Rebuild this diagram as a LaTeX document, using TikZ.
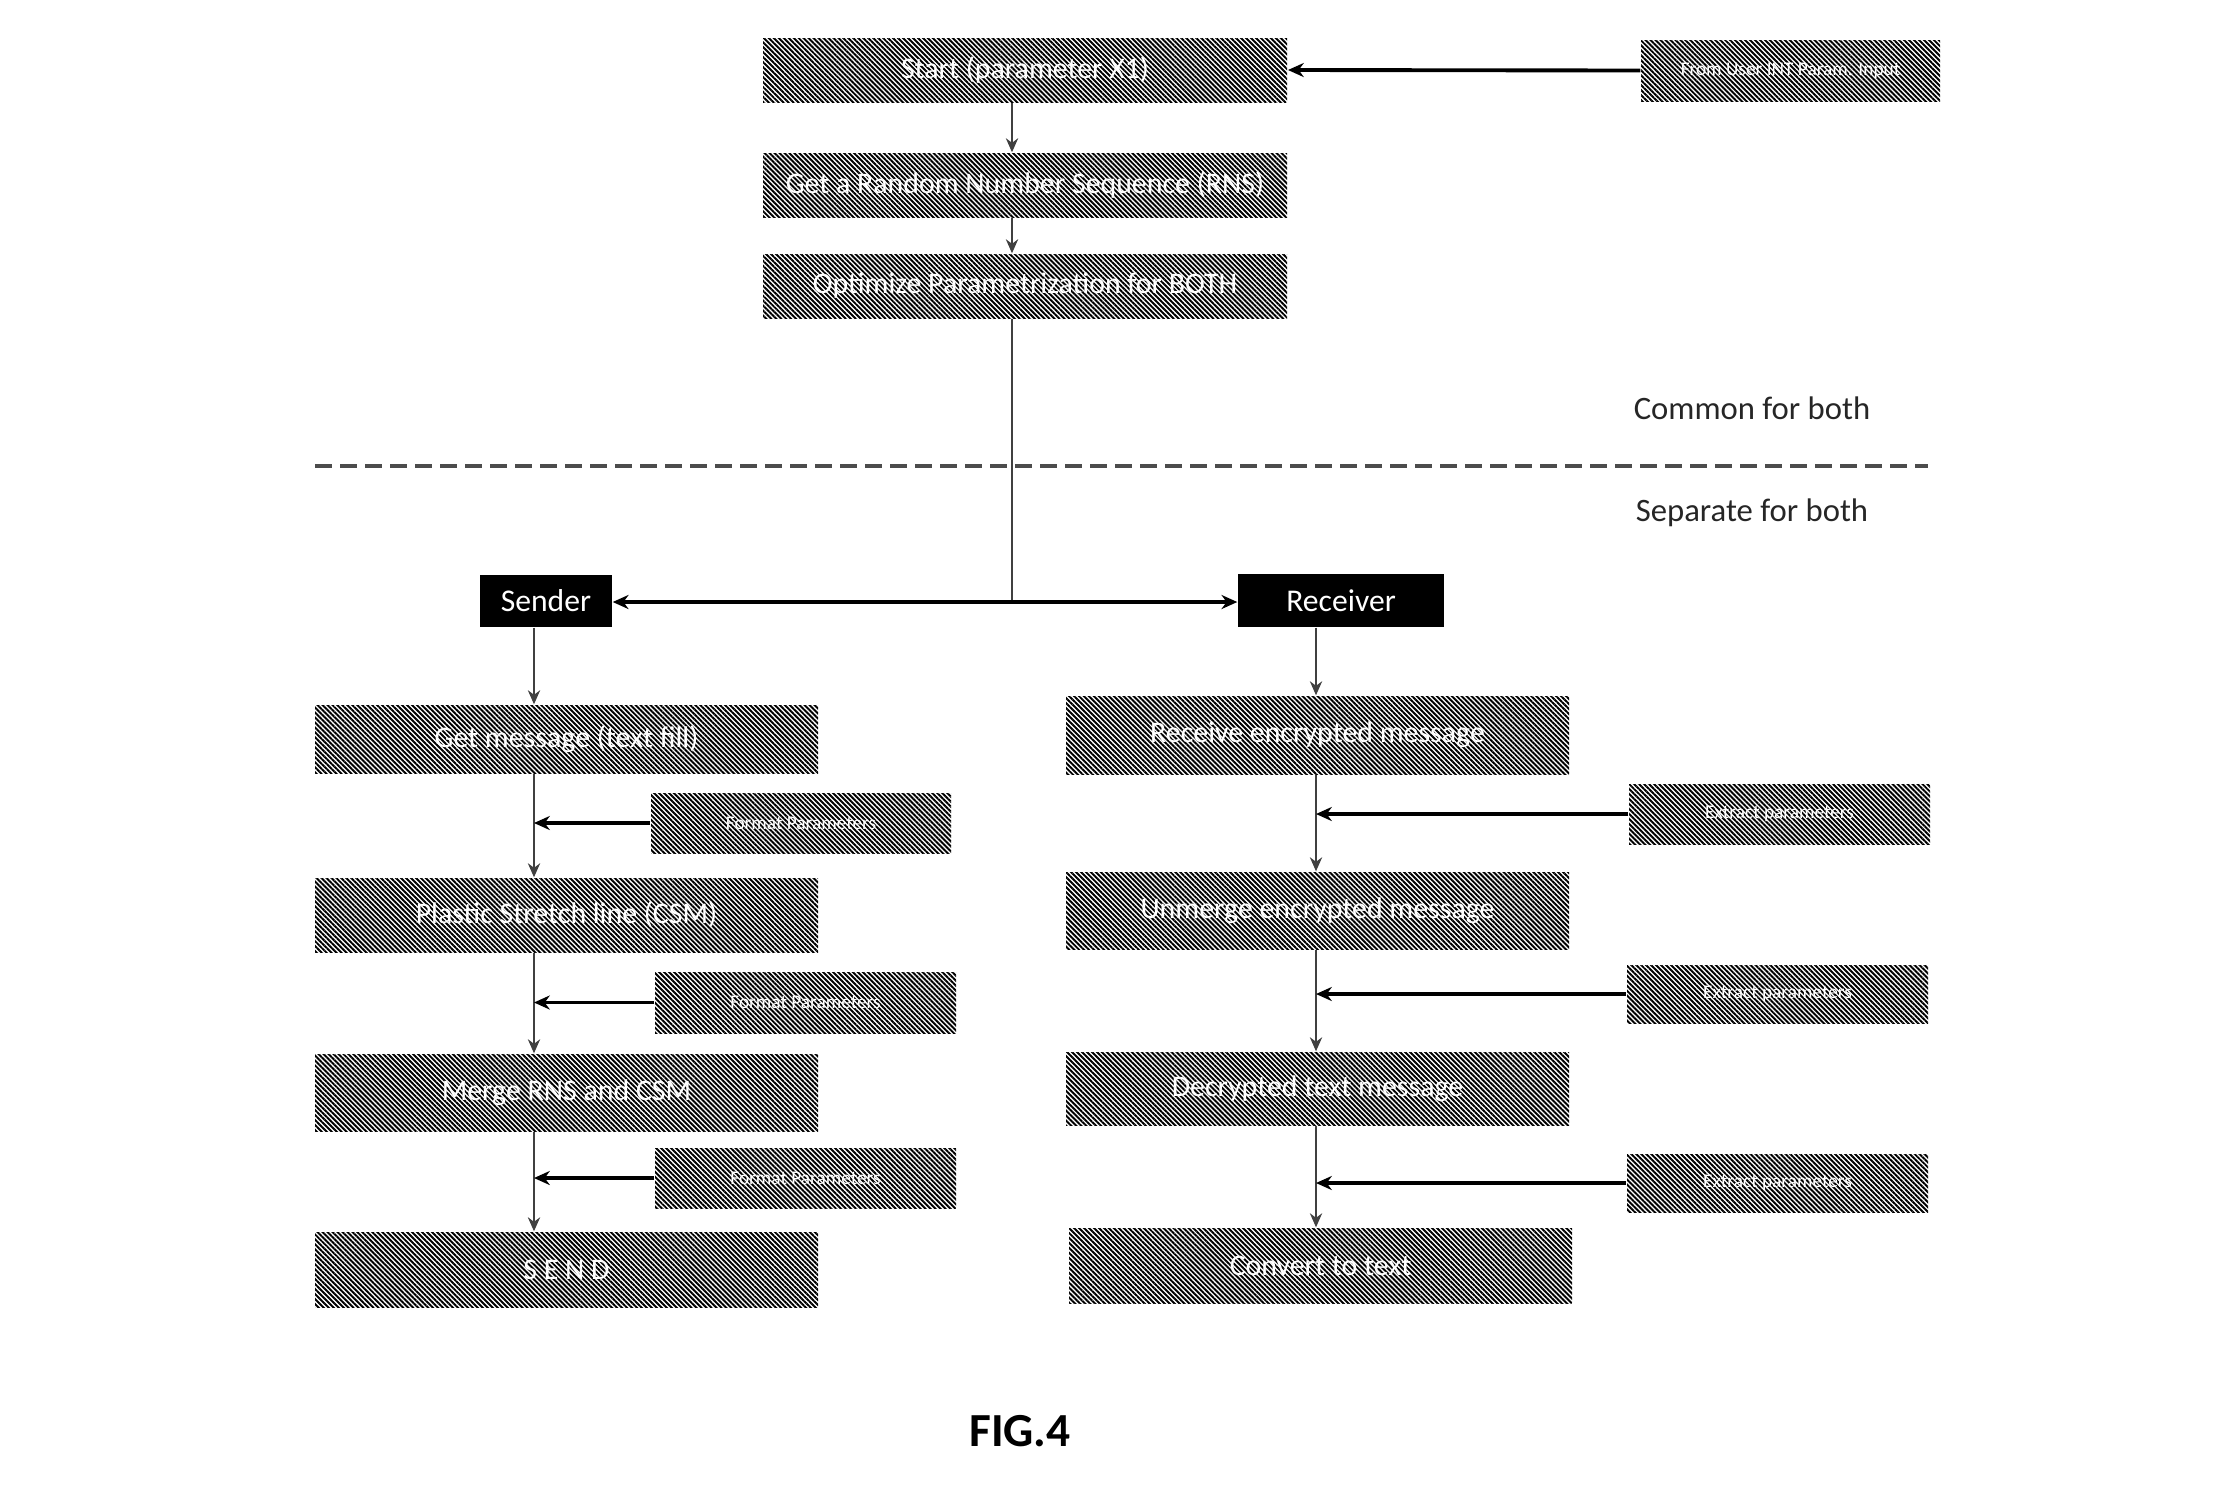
\documentclass[tikz,border=0pt]{standalone}
\usepackage{fontspec}
\setmainfont{Carlito}
\usetikzlibrary{arrows.meta,patterns.meta}
\tikzset{
  hatch/.style={pattern={Lines[angle=-45,distance=1.0pt,line width=0.55pt]}},
  bigbox/.style={hatch,draw=none,minimum width=5.03cm,inner sep=0pt,text=white,font=\fontsize{8.5}{10}\selectfont},
  topbox/.style={bigbox,minimum width=5.24cm,minimum height=0.64cm},
  smallbox/.style={hatch,draw=none,minimum width=3.0cm,minimum height=0.6cm,inner sep=0pt,text=white,font=\fontsize{5.5}{7}\selectfont},
  rolebox/.style={fill=black,draw=none,inner sep=0pt,text=white,font=\fontsize{9}{11}\selectfont},
  flow/.style={line width=0.5pt,draw=black!75,-{Stealth[length=4pt,width=3.5pt]}},
  plain/.style={line width=0.5pt,draw=black!75},
  side/.style={line width=1.1pt,draw=black,-{Stealth[length=4.5pt,width=4pt]}},
  note/.style={text=black!85,font=\fontsize{9.3}{11}\selectfont}
}
\begin{document}
\begin{tikzpicture}
\useasboundingbox (0,0) rectangle (22.28,-14.86);
% common part
\node[topbox] (start) at (10.25,-0.70) {Start (parameter X1)};
\node[smallbox,minimum width=2.99cm,minimum height=0.61cm] (user) at (17.905,-0.705) {From User INT Param. Input};
\node[topbox] (rns) at (10.25,-1.85) {Get a Random Number Sequence (RNS)};
\node[topbox] (opt) at (10.25,-2.86) {Optimize Parametrization for BOTH};
\coordinate (colC) at (10.12,-6.02);
\draw[side] (user.west) -- (start.east);
\draw[flow] (start.south -| colC) -- (rns.north -| colC);
\draw[flow] (rns.south -| colC) -- (opt.north -| colC);
\draw[plain] (opt.south -| colC) -- (colC);
% separator
\coordinate (dashL) at (3.15,-4.66);
\coordinate (dashR) at (19.28,-4.66);
\draw[black!70,line width=1.3pt,dash pattern=on 0.17cm off 0.08cm] (dashL) -- (dashR);
\node[note] (common) at (17.52,-4.08) {Common for both};
\node[note] (separate) at (17.52,-5.13) {Separate for both};
% roles
\node[rolebox,minimum width=1.32cm,minimum height=0.52cm] (sender) at (5.46,-6.01) {Sender};
\node[rolebox,minimum width=2.06cm,minimum height=0.53cm] (receiver) at (13.41,-6.005) {Receiver};
\draw[side,line width=0.9pt] (colC) -- (sender.east |- colC);
\draw[side,line width=0.9pt] (colC) -- (receiver.west |- colC);
% sender column
\coordinate (colL) at (5.34,-6.0);
\node[bigbox,minimum height=0.68cm] (l1) at (5.665,-7.39) {Get message (text fill)};
\node[bigbox,minimum height=0.74cm] (l2) at (5.665,-9.15) {Plastic Stretch line (CSM)};
\node[bigbox,minimum height=0.77cm] (l3) at (5.665,-10.925) {Merge RNS and CSM};
\node[bigbox,minimum height=0.75cm] (l4) at (5.665,-12.695) {S E N D};
\node[smallbox] (sl1) at (8.01,-8.23) {Format Parameters};
\node[smallbox,minimum width=3.01cm,minimum height=0.61cm] (sl2) at (8.055,-10.025) {Format Parameters};
\node[smallbox,minimum width=3.01cm] (sl3) at (8.055,-11.78) {Format Parameters};
\draw[flow] (sender.south -| colL) -- (l1.north -| colL);
\draw[flow] (l1.south -| colL) -- (l2.north -| colL);
\draw[flow] (l2.south -| colL) -- (l3.north -| colL);
\draw[flow] (l3.south -| colL) -- (l4.north -| colL);
\draw[side] (sl1.west) -- (sl1.west -| colL);
\draw[side] (sl2.west) -- (sl2.west -| colL);
\draw[side] (sl3.west) -- (sl3.west -| colL);
% receiver column
\coordinate (colR) at (13.16,-6.0);
\node[bigbox,minimum height=0.78cm] (r1) at (13.175,-7.35) {Receive encrypted message};
\node[bigbox,minimum height=0.77cm] (r2) at (13.175,-9.105) {Unmerge encrypted message};
\node[bigbox,minimum height=0.73cm] (r3) at (13.175,-10.885) {Decrypted text message};
\node[bigbox,minimum height=0.75cm] (r4) at (13.205,-12.655) {Convert to text};
\node[smallbox,minimum width=3.01cm] (sr1) at (17.795,-8.14) {Extract parameters};
\node[smallbox,minimum width=3.01cm,minimum height=0.58cm] (sr2) at (17.775,-9.94) {Extract parameters};
\node[smallbox,minimum width=3.01cm,minimum height=0.58cm] (sr3) at (17.775,-11.83) {Extract parameters};
\draw[flow] (receiver.south -| colR) -- (r1.north -| colR);
\draw[flow] (r1.south -| colR) -- (r2.north -| colR);
\draw[flow] (r2.south -| colR) -- (r3.north -| colR);
\draw[flow] (r3.south -| colR) -- (r4.north -| colR);
\draw[side] (sr1.west) -- (sr1.west -| colR);
\draw[side] (sr2.west) -- (sr2.west -| colR);
\draw[side] (sr3.west) -- (sr3.west -| colR);
% caption
\node[font=\fontsize{13.5}{15}\selectfont\bfseries] (fig) at (10.20,-14.31) {FIG.4};
\end{tikzpicture}
\end{document}
